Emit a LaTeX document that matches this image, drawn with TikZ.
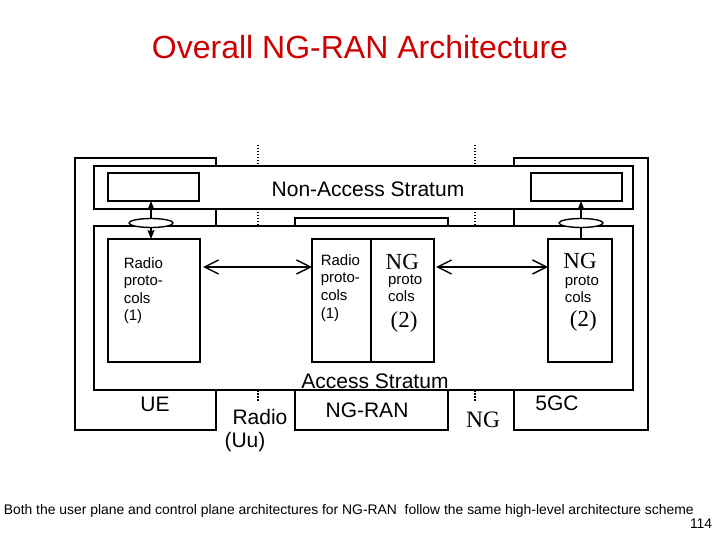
\documentclass[tikz,border=0pt]{standalone}
\usepackage{fontspec}
\setmainfont{Liberation Sans}
\newfontfamily\tmsfont{Liberation Serif}
\usetikzlibrary{arrows.meta,shapes.geometric}
\definecolor{titlered}{RGB}{204,0,0}
\begin{document}
\begin{tikzpicture}[x=1pt,y=-1pt,line join=miter,line width=1.6pt,
	box/.style={draw,fill=white,inner sep=0pt,outer sep=0pt,anchor=north west},
	sap/.style={draw,fill=white,ellipse,inner sep=0pt,outer sep=0pt,minimum width=44pt,minimum height=9pt,line width=1.4pt},
	big/.style={font=\fontsize{21}{23}\selectfont,text height=15pt,text depth=0pt,inner sep=0pt},
	tms/.style={font=\tmsfont\fontsize{23}{25}\selectfont,text height=15pt,text depth=0pt,inner sep=0pt},
	small/.style={font=\fontsize{15}{17}\selectfont,text height=10.7pt,text depth=0pt,inner sep=0pt,anchor=west},
	peer/.style={{Straight Barb[length=14pt,width=14pt]}-{Straight Barb[length=14pt,width=14pt]},line width=1.4pt},
	sapar/.style={-{Stealth[length=9pt,width=7pt,inset=1.5pt]},line width=1.4pt},
	refline/.style={dash pattern=on 1.5pt off 1.5pt,line width=1.5pt}]
	\useasboundingbox (0,0) rectangle (720,540);
	% title and footer
	\node[font=\fontsize{32}{35}\selectfont,text=titlered,text height=23pt,text depth=0pt,inner sep=0pt] (title) at (360,47) {Overall NG-RAN Architecture};
	\node[font=\fontsize{13.9}{16}\selectfont,text height=10pt,text depth=0pt,inner sep=0pt,anchor=west] (note) at (3,509) {Both the user plane and control plane architectures for NG-RAN\ \ follow the same high-level architecture scheme};
	\node[font=\fontsize{13.9}{16}\selectfont,text height=10pt,text depth=0pt,inner sep=0pt,anchor=east] (page) at (713,523) {114};
	% the three entities
	\node[box,minimum width=141pt,minimum height=272pt] (ue) at (75,158) {};
	\node[box,minimum width=153pt,minimum height=212pt] (ran) at (295,218) {};
	\node[box,minimum width=134pt,minimum height=272pt] (cn) at (514,158) {};
	% strata
	\node[box,minimum width=539pt,minimum height=43pt] (nas) at (94,166) {};
	\node[box,minimum width=539pt,minimum height=164pt] (as) at (94,226) {};
	\node[box,minimum width=91pt,minimum height=28pt] (nasue) at (108,173) {};
	\node[box,minimum width=91pt,minimum height=28pt] (nascn) at (531,173) {};
	\node[box,minimum width=92pt,minimum height=123pt] (rpue) at (108,239) {};
	\node[box,minimum width=59pt,minimum height=123pt] (rpran) at (312,239) {};
	\node[box,minimum width=63pt,minimum height=123pt] (ngran) at (371,239) {};
	\node[box,minimum width=64pt,minimum height=123pt] (ngcn) at (548,239) {};
	\node[sap] (sapue) at (151,223) {};
	\node[sap] (sapcn) at (581,223) {};
	% reference points
	\path (258,145) coordinate (uu) (475,145) coordinate (ng);
	\foreach \p in {uu,ng}
	\draw[refline] (\p) -- (\p |- nas.north) (\p |- nas.south) -- (\p |- as.north) (\p |- as.south) -- ++(0,12);
	\draw[peer] ([xshift=3pt,yshift=-28pt]rpue.north east) -- ([yshift=-28pt]rpran.north west);
	\draw[peer] ([xshift=2pt,yshift=-28pt]ngran.north east) -- ([yshift=-28pt]ngcn.north west);
	\draw[sapar] (sapue.north) -- (sapue.north |- nasue.south);
	\draw[sapar] (sapue.south) -- (sapue.south |- rpue.north);
	\draw[sapar] (sapcn.north) -- (sapcn.north |- nascn.south);
	\draw[line width=1.4pt] (sapcn.south) -- (sapcn.south |- ngcn.north);
	% labels
	\node[big] (naslbl) at (368,189) {Non-Access Stratum};
	\node[big] (aslbl) at (375,381) {Access Stratum};
	\node[big] (uelbl) at (155,404) {UE};
	\node[big] (ranlbl) at (367,410) {NG-RAN};
	\node[big] (cnlbl) at (557,403) {5GC};
	\node[big] (uulbl) at (260,417) {Radio};
	\node[big] (uulbl2) at (245,440) {(Uu)};
	\node[tms,font=\tmsfont\fontsize{23.5}{25}\selectfont] (nglbl) at (483,420) {NG};
	\foreach \t [count=\i] in {Radio,proto-,cols,{(1)}}{
		\node[small] at (123,262.7+17.6*\i-17.6) {\t};
		\node[small] at (320,260+17.6*\i-17.6) {\t};
	}
	\node[tms] at (402.3,261.7) {NG};
	\node[small] at (387.3,279.3) {proto};
	\node[small] at (387.3,296) {cols};
	\node[tms] at (404,320) {(2)};
	\node[tms] at (580,260.7) {NG};
	\node[small] at (564,280) {proto};
	\node[small] at (564,296.7) {cols};
	\node[tms] at (583.3,319.3) {(2)};
\end{tikzpicture}
\end{document}
